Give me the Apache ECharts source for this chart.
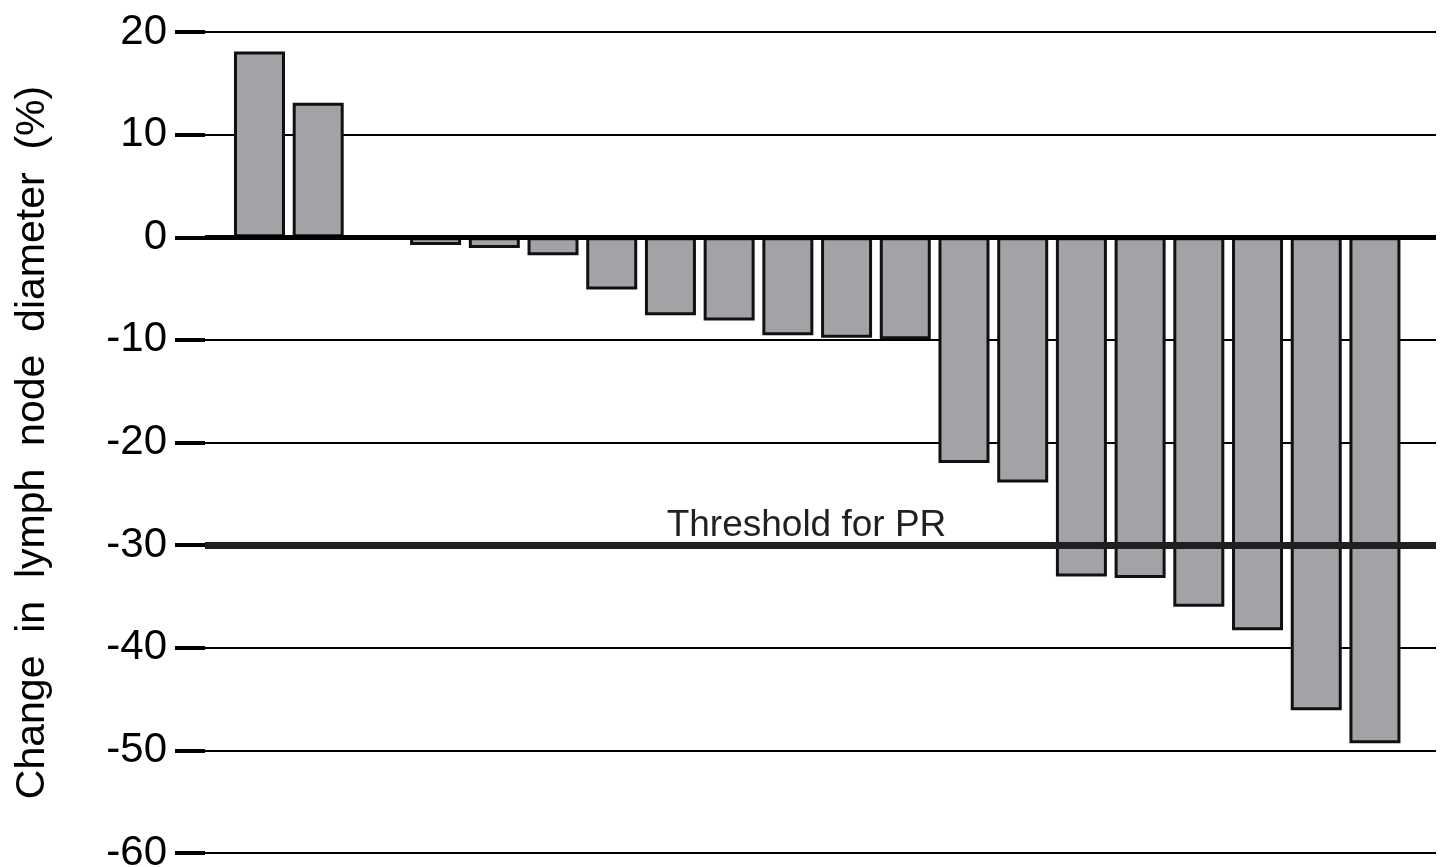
<!DOCTYPE html>
<html>
<head>
<meta charset="utf-8">
<script src="https://cdn.jsdelivr.net/npm/echarts@6/dist/echarts.min.js"></script>
<style>html,body{margin:0;padding:0;background:#fff}#c{width:1442px;height:867px}</style>
</head>
<body>
<div id="c"></div>
<script>
const patients = [1,2,3,4,5,6,7,8,9,10,11,12,13,14,15,16,17,18,19,20];
const changes = [18.1, 13.1, 0, -0.75, -1.05, -1.75, -5.1, -7.6, -8.1, -9.55, -9.8, -9.95, -22.0, -23.9, -33.05, -33.2, -36.0, -38.3, -46.1, -49.3];
const yTicks = [-60, -50, -40, -30, -20, -10, 0, 10, 20];
const thresholdValue = -30;
const thresholdLabel = 'Threshold for PR';
const yAxisTitle = 'Change  in  lymph  node  diameter  (%)';

const FONT = '"Liberation Sans", Arial, Helvetica, sans-serif';
const chart = echarts.init(document.getElementById('c'), null, {renderer: 'canvas'});
chart.setOption({
  animation: false,
  backgroundColor: '#ffffff',
  grid: {left: 205, right: 6, top: 32, bottom: 14, containLabel: false, outerBoundsMode: 'none'},
  xAxis: {
    type: 'value', min: 0.072, max: 21.04,
    show: false, splitLine: {show: false}
  },
  yAxis: {
    type: 'value', min: yTicks[0], max: yTicks[yTicks.length - 1], interval: 10,
    name: yAxisTitle, nameLocation: 'middle', nameRotate: 90, nameGap: 152,
    nameTextStyle: {fontFamily: FONT, fontSize: 41, color: '#000'},
    axisLine: {show: false},
    axisTick: {show: true, length: 30, lineStyle: {color: '#000', width: 4}},
    axisLabel: {fontFamily: FONT, fontSize: 42, color: '#000', margin: 38},
    splitLine: {show: true, lineStyle: {color: '#000', width: 2}}
  },
  series: [{
    type: 'bar',
    data: patients.map((p, i) => [p, changes[i]]),
    barWidth: 51,
    itemStyle: {color: '#a3a2a7', borderColor: '#111', borderWidth: 3},
    markLine: {
      silent: true, symbol: 'none', animation: false,
      data: [
        {yAxis: 0, lineStyle: {color: '#000', width: 5, type: 'solid'}, label: {show: false}},
        {yAxis: thresholdValue, lineStyle: {color: '#231f20', width: 7, type: 'solid'},
         label: {show: true, formatter: thresholdLabel, position: 'insideMiddleTop',
                 distance: 1, offset: [-14, 0], fontFamily: FONT, fontSize: 37, color: '#231f20'}}
      ]
    }
  }]
});
</script>
</body>
</html>
